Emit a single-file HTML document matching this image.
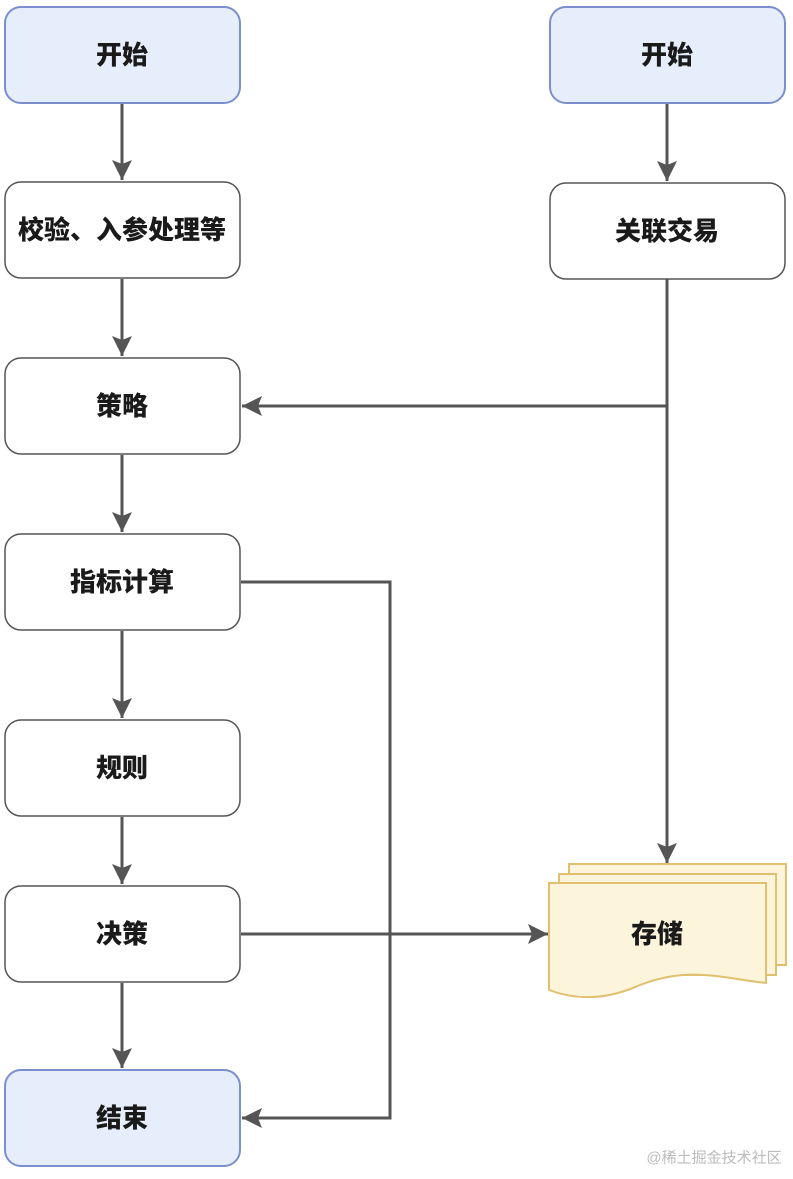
<!DOCTYPE html>
<html><head><meta charset="utf-8"><style>
body{margin:0;background:#fff;}
svg text{font-family:"Liberation Sans","Noto Sans CJK SC",sans-serif;font-weight:900;font-size:26px;fill:#1a1a1a;text-anchor:middle;dominant-baseline:central;}
</style></head><body>
<svg width="793" height="1174" viewBox="0 0 793 1174" xmlns="http://www.w3.org/2000/svg">
<defs>
<marker id="b" viewBox="0 0 10 10" markerWidth="24" markerHeight="20" refX="10" refY="5" orient="auto" markerUnits="userSpaceOnUse"><path d="M0,0 L10,5 L0,10 L2,5 z" fill="#555"/></marker></defs>
<g stroke="#555" stroke-width="3" fill="none">
<path d="M122,104 V180" marker-end="url(#b)"/>
<path d="M122,279 V356" marker-end="url(#b)"/>
<path d="M122,455 V532" marker-end="url(#b)"/>
<path d="M122,631 V718" marker-end="url(#b)"/>
<path d="M122,817 V884" marker-end="url(#b)"/>
<path d="M122,983 V1068" marker-end="url(#b)"/>
<path d="M667,104 V181" marker-end="url(#b)"/>
<path d="M667,279 V863" marker-end="url(#b)"/>
<path d="M667,406 H242" marker-end="url(#b)"/>
<path d="M241,582 H390 V1118 H242" marker-end="url(#b)"/>
<path d="M241,934 H548" marker-end="url(#b)"/>
</g>
<g stroke-width="2">
<rect x="5" y="7" width="235" height="96" rx="16" fill="#e6edfb" stroke="#7b8fcf"/>
<rect x="550" y="7" width="235" height="96" rx="16" fill="#e6edfb" stroke="#7b8fcf"/>
<rect x="5" y="1070" width="235" height="96" rx="16" fill="#e6edfb" stroke="#7b8fcf"/>
<g fill="#fff" stroke="#555" stroke-width="1.5">
<rect x="5" y="182" width="235" height="96" rx="16"/>
<rect x="550" y="183" width="235" height="96" rx="16"/>
<rect x="5" y="358" width="235" height="96" rx="16"/>
<rect x="5" y="534" width="235" height="96" rx="16"/>
<rect x="5" y="720" width="235" height="96" rx="16"/>
<rect x="5" y="886" width="235" height="96" rx="16"/>
</g>
<g fill="#fdf4dc" stroke="#e0c06e">
<path d="M569,864 H786 V965 L569,965 Z"/>
<path d="M559,874 H776 V975 L559,975 Z"/>
<path d="M549,883 H766 V983 C720,978 690,966 640,985 C600,1003 570,998 549,990 Z"/>
</g>
</g>
<text x="122" y="55">开始</text>
<text x="667" y="55">开始</text>
<text x="122" y="230">校验、入参处理等</text>
<text x="667" y="231">关联交易</text>
<text x="122" y="406">策略</text>
<text x="122" y="582">指标计算</text>
<text x="122" y="768">规则</text>
<text x="122" y="934">决策</text>
<text x="122" y="1118">结束</text>
<text x="657" y="934">存储</text>
<text x="714" y="1158" style="font-size:15px;font-weight:normal;fill:#bbb">@稀土掘金技术社区</text>
</svg>
</body></html>
